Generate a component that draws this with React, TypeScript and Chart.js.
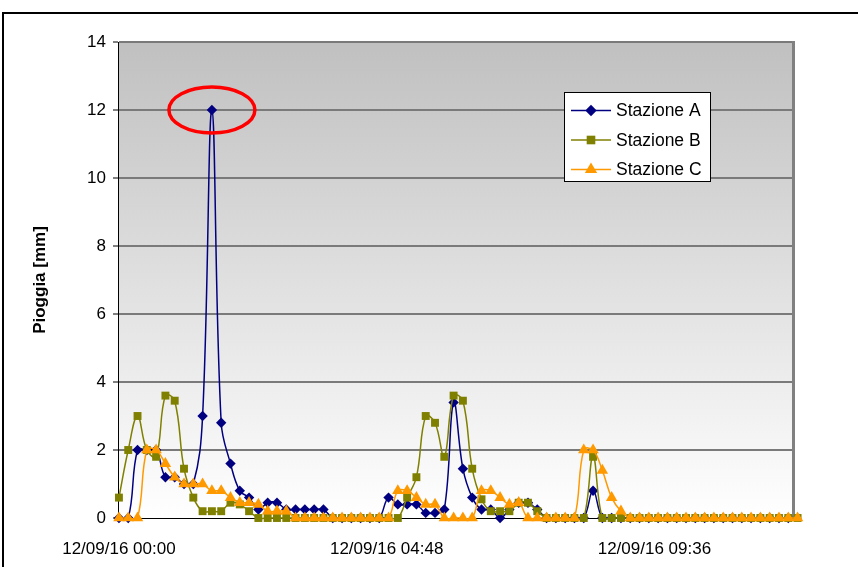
import React, { useEffect, useRef } from 'react';
import { Chart, registerables } from 'chart.js';

Chart.register(...registerables);

// ---- data ----
const DATE_PREFIX = '12/09/16';
const STEP_MINUTES = 10; // one reading every 10 minutes, starting 00:00
const X_TICK_MINUTES = [0, 288, 576]; // 00:00, 04:48, 09:36
const X_MIN_MINUTES = -1;
const X_MAX_MINUTES = 724;
const Y_MIN = 0;
const Y_MAX = 14;
const Y_STEP = 2;
const Y_TITLE = 'Pioggia [mm]';
const SERIES_NAMES = ['Stazione A', 'Stazione B', 'Stazione C'];

const stazioneA = [
  0, 0, 2, 2, 2, 1.2, 1.2, 1, 1, 3,
  12, 2.8, 1.6, 0.8, 0.6, 0.25, 0.45, 0.45, 0.25, 0.25,
  0.25, 0.25, 0.25, 0, 0, 0, 0, 0, 0, 0.6,
  0.4, 0.4, 0.4, 0.15, 0.15, 0.25, 3.4, 1.45, 0.6, 0.25,
  0.25, 0, 0.25, 0.45, 0.45, 0.25, 0, 0, 0, 0,
  0, 0.8, 0, 0, 0, 0, 0, 0, 0, 0,
  0, 0, 0, 0, 0, 0, 0, 0, 0, 0,
  0, 0, 0, 0,
];
const stazioneB = [
  0.6, 2, 3, 2, 1.8, 3.6, 3.45, 1.45, 0.6, 0.2,
  0.2, 0.2, 0.45, 0.4, 0.2, 0, 0, 0, 0, 0,
  0, 0, 0, 0, 0, 0, 0, 0, 0, 0,
  0, 0.6, 1.2, 3, 2.8, 1.8, 3.6, 3.45, 1.45, 0.55,
  0.2, 0.2, 0.2, 0.45, 0.45, 0.2, 0, 0, 0, 0,
  0, 1.8, 0, 0, 0, 0, 0, 0, 0, 0,
  0, 0, 0, 0, 0, 0, 0, 0, 0, 0,
  0, 0, 0, 0,
];
const stazioneC = [
  0, 0, 0, 2, 2, 1.6, 1.2, 1, 1, 1,
  0.8, 0.8, 0.6, 0.45, 0.45, 0.4, 0.2, 0.2, 0.2, 0,
  0, 0, 0, 0, 0, 0, 0, 0, 0, 0,
  0.8, 0.8, 0.6, 0.4, 0.4, 0, 0, 0, 0, 0.8,
  0.8, 0.6, 0.4, 0.45, 0, 0, 0, 0, 0, 0,
  2, 2, 1.4, 0.6, 0.2, 0, 0, 0, 0, 0,
  0, 0, 0, 0, 0, 0, 0, 0, 0, 0,
  0, 0, 0, 0,
];

const COLORS = ['#000080', '#808000', '#FF9900'];
const STYLES = ['rectRot', 'rect', 'triangle'];
const RADII = [5.2, 5.6, 6.6];
const FONT = "'Liberation Sans', Arial, sans-serif";

function timeLabel(min: number) {
  const h = Math.floor(min / 60);
  const m = Math.round(min % 60);
  return `${DATE_PREFIX} ${String(h).padStart(2, '0')}:${String(m).padStart(2, '0')}`;
}

function drawMarker(ctx: CanvasRenderingContext2D, style: string, x: number, y: number, r: number) {
  ctx.beginPath();
  if (style === 'rectRot') {
    ctx.moveTo(x - r, y);
    ctx.lineTo(x, y - r);
    ctx.lineTo(x + r, y);
    ctx.lineTo(x, y + r);
  } else if (style === 'rect') {
    const s = Math.SQRT1_2 * r;
    ctx.rect(x - s, y - s, 2 * s, 2 * s);
  } else {
    let a = 0;
    ctx.moveTo(x + Math.sin(a) * r, y - Math.cos(a) * r);
    a += (2 * Math.PI) / 3;
    ctx.lineTo(x + Math.sin(a) * r, y - Math.cos(a) * r);
    a += (2 * Math.PI) / 3;
    ctx.lineTo(x + Math.sin(a) * r, y - Math.cos(a) * r);
  }
  ctx.closePath();
  ctx.fill();
}

export default function App() {
  const ref = useRef<HTMLCanvasElement>(null);

  useEffect(() => {
    const canvas = ref.current;
    if (!canvas) return;
    const seriesValues = [stazioneA, stazioneB, stazioneC];

    const bgPlugin = {
      id: 'plotBg',
      beforeDraw(chart: any) {
        const { ctx, chartArea } = chart;
        const { left, top, right, bottom } = chartArea;
        const g = ctx.createLinearGradient(0, top, 0, bottom);
        g.addColorStop(0, '#c0c0c0');
        g.addColorStop(1, '#ffffff');
        ctx.save();
        ctx.fillStyle = g;
        ctx.fillRect(left, top, right - left, bottom - top);
        ctx.restore();
      },
      beforeDatasetsDraw(chart: any) {
        const { ctx, chartArea } = chart;
        const { top, right, bottom } = chartArea;
        ctx.save();
        ctx.strokeStyle = '#808080';
        ctx.lineWidth = 3;
        ctx.beginPath();
        ctx.moveTo(right + 1.5, top - 1);
        ctx.lineTo(right + 1.5, bottom);
        ctx.stroke();
        ctx.restore();
      },
    };

    const ellipsePlugin = {
      id: 'peakEllipse',
      afterDatasetsDraw(chart: any) {
        const { ctx, scales } = chart;
        const maxV = Math.max(...stazioneA);
        const idx = stazioneA.indexOf(maxV);
        const x = scales.x.getPixelForValue(idx * STEP_MINUTES);
        const y = scales.y.getPixelForValue(maxV);
        ctx.save();
        ctx.strokeStyle = '#ff0000';
        ctx.lineWidth = 3.5;
        ctx.beginPath();
        ctx.ellipse(x, y, 43, 23, 0, 0, Math.PI * 2);
        ctx.stroke();
        ctx.restore();
      },
    };

    const legendPlugin = {
      id: 'boxLegend',
      afterDraw(chart: any) {
        const { ctx } = chart;
        const bx = 564.5, by = 92.5, bw = 146, bh = 89;
        ctx.save();
        ctx.fillStyle = '#ffffff';
        ctx.fillRect(bx, by, bw, bh);
        ctx.strokeStyle = '#000000';
        ctx.lineWidth = 1;
        ctx.strokeRect(bx, by, bw, bh);
        const rows = [110.5, 140, 169.5];
        SERIES_NAMES.forEach((name, i) => {
          const y = rows[i];
          ctx.strokeStyle = COLORS[i];
          ctx.lineWidth = 1.5;
          ctx.beginPath();
          ctx.moveTo(571, y);
          ctx.lineTo(611, y);
          ctx.stroke();
          ctx.fillStyle = COLORS[i];
          drawMarker(ctx, STYLES[i], 591, y, RADII[i] + 0.5);
          ctx.fillStyle = '#000000';
          ctx.font = `17.5px ${FONT}`;
          ctx.textAlign = 'left';
          ctx.textBaseline = 'middle';
          ctx.fillText(name, 616, y + 1);
        });
        ctx.restore();
      },
    };

    const chart = new Chart(canvas, {
      type: 'line',
      data: {
        datasets: seriesValues.map((vals, i) => ({
          label: SERIES_NAMES[i],
          data: vals.map((v, k) => ({ x: k * STEP_MINUTES, y: v })),
          borderColor: COLORS[i],
          backgroundColor: COLORS[i],
          borderWidth: 1.5,
          pointStyle: STYLES[i] as any,
          pointRadius: RADII[i],
          pointBorderWidth: 0,
          pointBackgroundColor: COLORS[i],
          tension: 0.4,
          fill: false,
          clip: false as any,
          order: 3 - i,
        })),
      },
      options: {
        animation: false,
        responsive: false,
        events: [],
        layout: { padding: { left: 0, top: 42, right: 66, bottom: 0 } },
        plugins: { legend: { display: false }, tooltip: { enabled: false }, title: { display: false } },
        elements: { line: { capBezierPoints: false } },
        scales: {
          x: {
            type: 'linear',
            min: X_MIN_MINUTES,
            max: X_MAX_MINUTES,
            grid: { display: false, drawTicks: false },
            border: { display: true, color: '#000000', width: 1 },
            afterBuildTicks: (axis: any) => {
              axis.ticks = X_TICK_MINUTES.map((v) => ({ value: v }));
            },
            afterFit: (axis: any) => {
              axis.height = 567 - 518;
            },
            ticks: {
              autoSkip: false,
              maxRotation: 0,
              padding: 21,
              color: '#000000',
              font: { family: FONT, size: 17 },
              callback: (v: any) => timeLabel(Number(v)),
            },
          },
          y: {
            min: Y_MIN,
            max: Y_MAX,
            grid: {
              color: (c: any) => (c.tick && c.tick.value === 0 ? 'rgba(0,0,0,0)' : '#7a7a7a'),
              lineWidth: 2,
              tickColor: '#000000',
              tickWidth: 1,
              tickLength: 5,
              drawTicks: true,
            },
            border: { display: true, color: '#000000', width: 1 },
            afterFit: (axis: any) => {
              axis.width = 118;
            },
            ticks: {
              stepSize: Y_STEP,
              padding: 7,
              color: '#000000',
              font: { family: FONT, size: 17 },
              callback: (v: any) => String(v),
            },
            title: {
              display: true,
              text: Y_TITLE,
              color: '#000000',
              font: { family: FONT, size: 17, weight: 'bold' },
              padding: { top: 30, bottom: 0 },
            },
          },
        },
      },
      plugins: [bgPlugin, ellipsePlugin, legendPlugin],
    } as any);

    return () => chart.destroy();
  }, []);

  return (
    <div style={{ position: 'absolute', left: 0, top: 0, width: 858, height: 567, overflow: 'hidden', background: '#ffffff' }}>
      <div style={{ position: 'absolute', left: 2, top: 12, width: 900, height: 600, borderLeft: '2px solid #000', borderTop: '2px solid #000' }} />
      <canvas ref={ref} width={858} height={567} style={{ position: 'absolute', left: 0, top: 0 }} />
    </div>
  );
}
